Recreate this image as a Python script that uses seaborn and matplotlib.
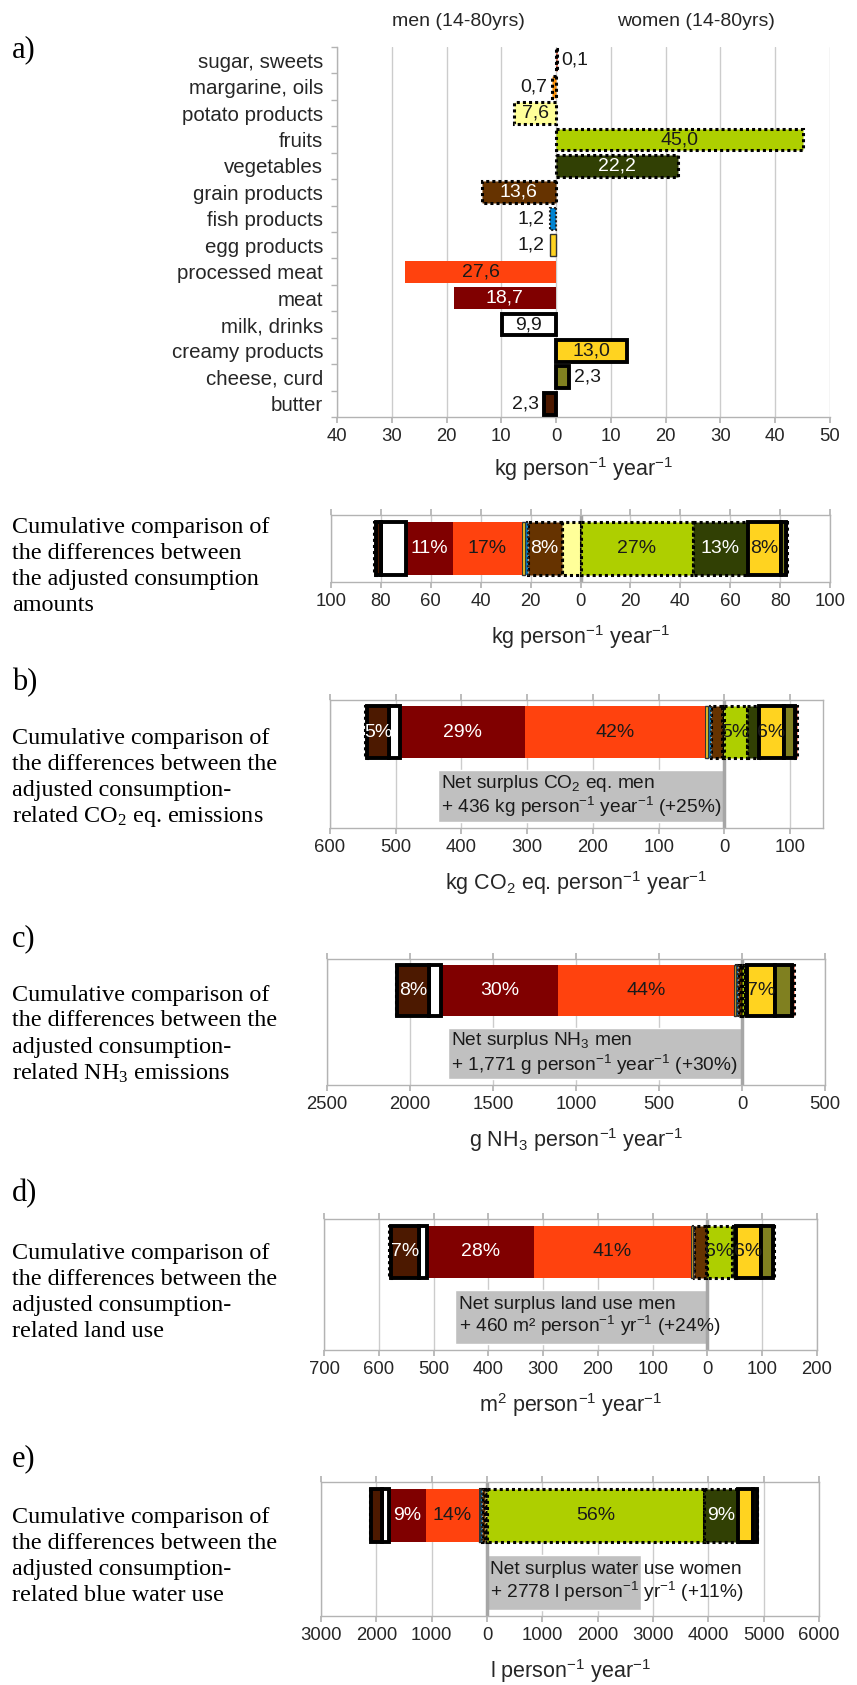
import numpy as np
import pandas as pd
import matplotlib
matplotlib.use("Agg")
import matplotlib.pyplot as plt
import seaborn as sns
from matplotlib.ticker import FuncFormatter, MultipleLocator, FixedLocator

# ------------------------------------------------------------------ data
categories = ["sugar, sweets", "margarine, oils", "potato products", "fruits",
              "vegetables", "grain products", "fish products", "egg products",
              "processed meat", "meat", "milk, drinks", "creamy products",
              "cheese, curd", "butter"]
# differences women - men (negative = men consume / emit more)
amount_diff = [0.1, -0.7, -7.6, 45.0, 22.2, -13.6, -1.2, -1.2, -27.6, -18.7, -9.9, 13.0, 2.3, -2.3]
co2_diff = [3, -3, -3, 34, 18, -17, -5, -4, -275, -189, -17, 38, 17, -33]
nh3_diff = [11, -5, -6, 16, 14, -20, -8, -12, -1060, -710, -71, 170, 100, -190]
land_diff = [2, -4, -2, 44, 8, -22, -3, -3, -287, -195, -15, 45, 23, -51]
water_diff = [11, -12, -30, 3920, 620, -64, -32, -20, -960, -660, -130, 260, 75, -200]

stack_order = ["potato products", "fruits", "vegetables", "grain products", "fish products",
               "egg products", "processed meat", "meat", "milk, drinks", "creamy products",
               "cheese, curd", "butter", "margarine, oils", "sugar, sweets"]

fill_colors = ["#FF3300", "#FF950E", "#FFFF99", "#AECF00", "#314004", "#663300", "#0084D1",
               "#FFD320", "#FF420E", "#800000", "#FFFFFF", "#FFD320", "#808020", "#4C1900"]
border_kind = ["dot", "dot", "dot", "dot", "dot", "dot", "dotfine", "thin", "none", "none",
               "thick", "thick", "thick", "thick"]
dark_fill = ["vegetables", "grain products", "meat", "butter"]

amount_shown = ["meat", "processed meat", "grain products", "fruits", "vegetables", "creamy products"]
co2_shown = ["butter", "meat", "processed meat", "fruits", "creamy products"]
nh3_shown = ["butter", "meat", "processed meat", "creamy products"]
land_shown = ["butter", "meat", "processed meat", "fruits", "creamy products"]
water_shown = ["meat", "processed meat", "fruits", "vegetables"]

net_texts = ["Net surplus CO$_2$ eq. men\n+ 436 kg person$^{-1}$ year$^{-1}$ (+25%)",
             "Net surplus NH$_3$ men\n+ 1,771 g person$^{-1}$ year$^{-1}$ (+30%)",
             "Net surplus land use men\n+ 460 m\u00b2 person$^{-1}$ yr$^{-1}$ (+24%)",
             "Net surplus water use women\n+ 2778 l person$^{-1}$ yr$^{-1}$ (+11%)"]

xlabels = ["kg person$^{-1}$ year$^{-1}$", "kg person$^{-1}$ year$^{-1}$",
           "kg CO$_2$ eq. person$^{-1}$ year$^{-1}$", "g NH$_3$ person$^{-1}$ year$^{-1}$",
           "m$^2$ person$^{-1}$ year$^{-1}$", "l person$^{-1}$ year$^{-1}$"]

side_texts = [
    ["Cumulative comparison of", "the differences between", "the adjusted consumption", "amounts"],
    ["Cumulative comparison of", "the differences between the", "adjusted consumption-",
     "related CO$_2$ eq. emissions"],
    ["Cumulative comparison of", "the differences between the", "adjusted consumption-",
     "related NH$_3$ emissions"],
    ["Cumulative comparison of", "the differences between the", "adjusted consumption-",
     "related land use"],
    ["Cumulative comparison of", "the differences between the", "adjusted consumption-",
     "related blue water use"],
]
panel_letters = ["a)", "b)", "c)", "d)", "e)"]

# ------------------------------------------------------------------ style
sns.set_theme(style="white")
plt.rcParams["font.family"] = ["Liberation Sans", "DejaVu Sans"]
plt.rcParams["mathtext.default"] = "regular"
SERIF = ["Liberation Serif", "DejaVu Serif"]
FRAME = "#b3b3b3"
GRID = "#cccccc"

W, H = 857, 1685
fig = plt.figure(figsize=(W / 100, H / 100), dpi=100)


def rect(x0, y0, x1, y1):
    return [x0 / W, 1 - y1 / H, (x1 - x0) / W, (y1 - y0) / H]


def edge_kw(kind):
    if kind == "dot":
        return dict(edgecolor="black", linewidth=2.2, linestyle=(0, (1, 1)))
    if kind == "dotfine":
        return dict(edgecolor="#222222", linewidth=1.5, linestyle=(0, (1, 1)))
    if kind == "thin":
        return dict(edgecolor="#333333", linewidth=1.0, linestyle="-")
    if kind == "thick":
        return dict(edgecolor="black", linewidth=2.8, linestyle="-")
    return dict(edgecolor="none", linewidth=0)


absfmt = FuncFormatter(lambda v, p: f"{abs(v):g}")
color_of = dict(zip(categories, fill_colors))
kind_of = dict(zip(categories, border_kind))

# ------------------------------------------------------------------ panel a
axA = fig.add_axes(rect(337, 47, 830, 417))
df = pd.DataFrame({"category": categories, "kg": amount_diff})
sns.barplot(data=df, x="kg", y="category", hue="category", order=categories,
            hue_order=categories, palette=color_of, orient="h", width=0.83,
            saturation=1, legend=False, ax=axA, zorder=3)
for patch in axA.patches:
    idx = int(round(patch.get_y() + patch.get_height() / 2))
    if 0 <= idx < len(categories):
        kw = edge_kw(kind_of[categories[idx]])
        patch.set_edgecolor(kw["edgecolor"])
        patch.set_linewidth(kw["linewidth"])
        if "linestyle" in kw:
            patch.set_linestyle(kw["linestyle"])

for i, (cat, v) in enumerate(zip(categories, amount_diff)):
    txt = f"{abs(v):.1f}".replace(".", ",")
    if abs(v) >= 5:
        axA.text(v / 2, i, txt, ha="center", va="center", fontsize=14, zorder=6,
                 color="white" if cat in dark_fill else "#1a1a1a")
    else:
        axA.annotate(txt, xy=(v, i), xytext=(3.5 if v > 0 else -3.5, 0),
                     textcoords="offset points", ha="left" if v > 0 else "right",
                     va="center", fontsize=14, color="#1a1a1a", zorder=6)

axA.set_xlim(-40, 50)
axA.set_ylim(len(categories) - 0.5, -0.5)
axA.xaxis.set_major_locator(MultipleLocator(10))
axA.xaxis.set_major_formatter(absfmt)
axA.yaxis.set_minor_locator(FixedLocator(np.arange(len(categories) + 1) - 0.5))
axA.grid(axis="x", color=GRID, lw=1)
axA.set_axisbelow(True)
for s in ["top", "right"]:
    axA.spines[s].set_visible(False)
for s in ["left", "bottom"]:
    axA.spines[s].set_color(FRAME)
    axA.spines[s].set_linewidth(1)
axA.tick_params(axis="x", which="major", bottom=True, length=4, color=FRAME,
                labelsize=13.3, pad=4, direction="out")
axA.tick_params(axis="y", which="major", left=False, length=0, labelsize=14.8, pad=10)
axA.tick_params(axis="y", which="minor", left=True, length=4, color=FRAME, direction="out")
axA.set_ylabel("")
axA.set_xlabel(xlabels[0], fontsize=15.5, labelpad=7)

fig.text(458 / W, 1 - 22 / H, "men (14-80yrs)", ha="center", va="center", fontsize=14)
fig.text(696 / W, 1 - 22 / H, "women (14-80yrs)", ha="center", va="center", fontsize=14)


# ------------------------------------------------------------------ cumulative panels
def cumulative(ax, values, xlim, step, xlabel, shown, net_text=None):
    vals = dict(zip(categories, values))
    total = sum(abs(v) for v in values)
    pos, neg = 0.0, 0.0
    for cat in stack_order:
        v = vals[cat]
        if v >= 0:
            start = pos
            pos += v
        else:
            start = neg
            neg += v
        kw = edge_kw(kind_of[cat])
        z = 4 if kind_of[cat] == "thick" else 3
        ax.barh(0, v, left=start, height=0.8, color=color_of[cat], zorder=z, **kw)
        if cat in shown:
            ax.text(start + v / 2, 0, f"{abs(v) / total * 100:.0f}%", ha="center",
                    va="center", fontsize=14, zorder=6,
                    color="white" if cat in dark_fill else "#1a1a1a")
    ax.axvline(0, color="#a6a6a6", lw=2.5, zorder=2)
    if net_text is not None:
        net = sum(values)
        ax.barh(1, net, height=0.82, color="#c0c0c0", zorder=1.5)
        ax.annotate(net_text, xy=(min(net, 0), 1), xytext=(2.5, 0),
                    textcoords="offset points", ha="left", va="center",
                    fontsize=13.8, linespacing=1.05, color="#1a1a1a", zorder=6)
        ax.set_ylim(1.5, -0.5)
    else:
        ax.set_ylim(0.5, -0.5)
    ax.set_xlim(*xlim)
    ax.xaxis.set_major_locator(MultipleLocator(step))
    ax.xaxis.set_major_formatter(absfmt)
    ax.set_yticks([])
    ax.grid(axis="x", color=GRID, lw=1)
    ax.set_axisbelow(True)
    for s in ax.spines.values():
        s.set_color(FRAME)
        s.set_linewidth(1)
    ax.tick_params(axis="x", bottom=True, top=True, length=4, color=FRAME,
                   labelsize=13.3, pad=4, direction="out")
    ax.set_xlabel(xlabel, fontsize=15.5, labelpad=9)


panels = [
    (rect(331, 515, 830, 582), amount_diff, (-100, 100), 20, amount_shown, None),
    (rect(330, 700, 823, 828), co2_diff, (-600, 150), 100, co2_shown, net_texts[0]),
    (rect(327, 959, 825, 1085), nh3_diff, (-2500, 500), 500, nh3_shown, net_texts[1]),
    (rect(324, 1219, 817, 1350), land_diff, (-700, 200), 100, land_shown, net_texts[2]),
    (rect(321, 1482, 819, 1616), water_diff, (-3000, 6000), 1000, water_shown, net_texts[3]),
]
for k, (r, vals, xl, st, sh, nt) in enumerate(panels):
    ax = fig.add_axes(r)
    cumulative(ax, vals, xl, st, xlabels[k + 1], sh, nt)

# ------------------------------------------------------------------ left-hand texts
text_centers = [566, 777, 1034, 1292, 1556]
letter_y = [50, 683, 939, 1194, 1459]
LINE = 26
for lines, yc in zip(side_texts, text_centers):
    n = len(lines)
    for j, line in enumerate(lines):
        y = yc + (j - (n - 1) / 2) * LINE
        fig.text(12 / W, 1 - y / H, line, ha="left", va="center", fontsize=17.4,
                 family=SERIF, color="black")
for letter, y in zip(panel_letters, letter_y):
    fig.text(12 / W, 1 - y / H, letter, ha="left", va="center", fontsize=22,
             family=SERIF, color="black")

fig.savefig("out.png", dpi=100)
